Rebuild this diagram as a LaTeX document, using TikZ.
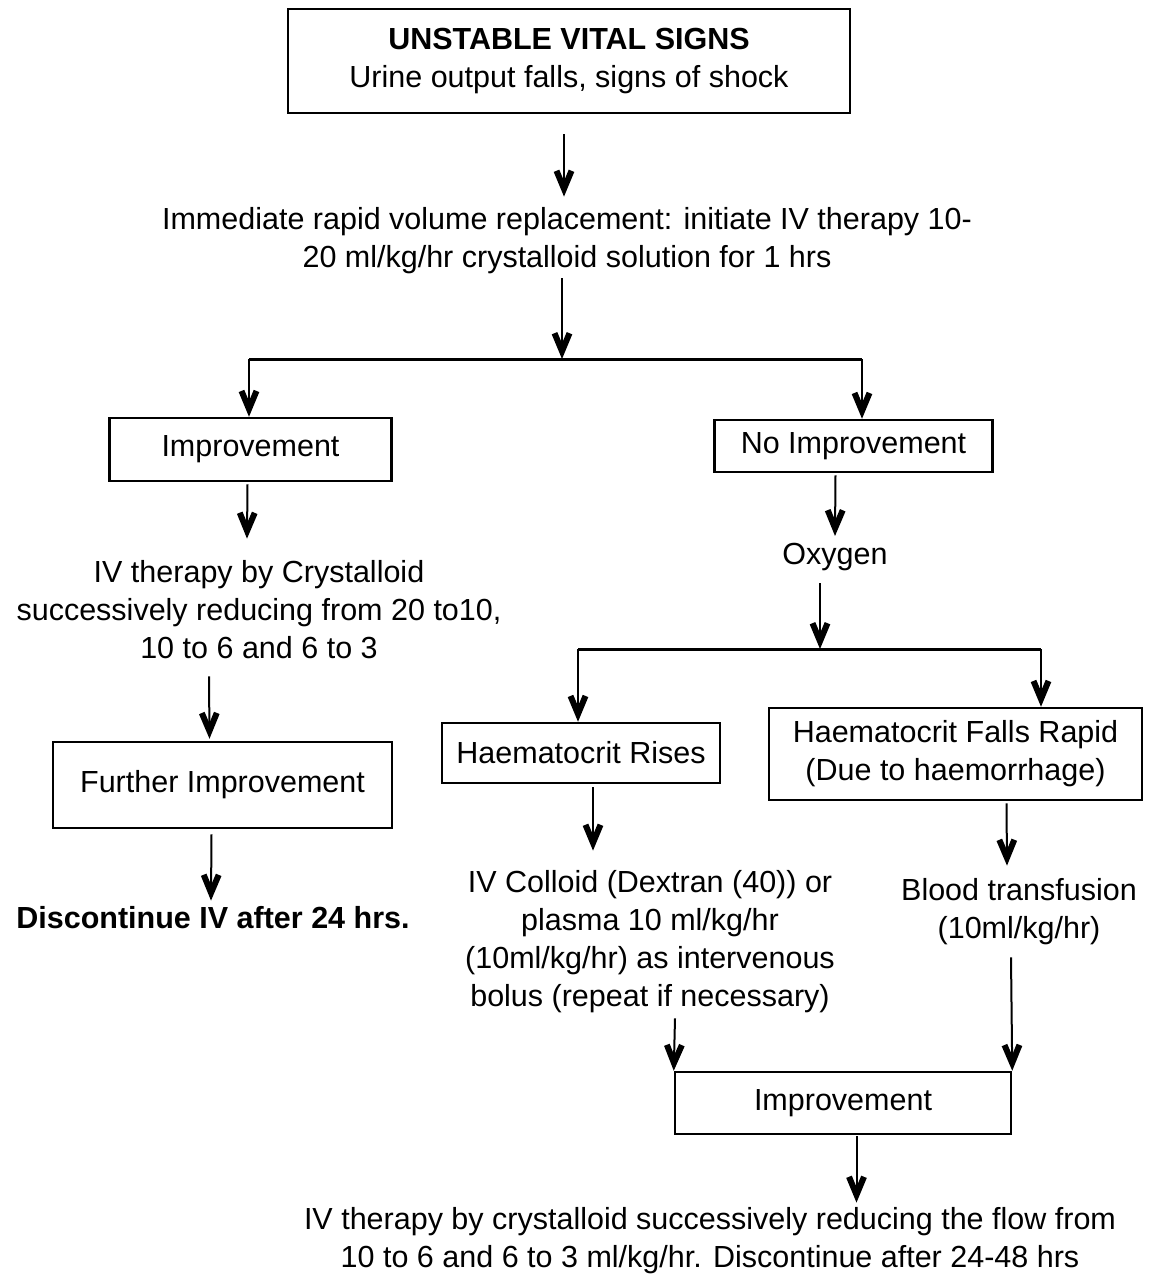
\documentclass[tikz,border=0pt]{standalone}
\usepackage{fontspec}
\setmainfont{Liberation Sans}
\usetikzlibrary{arrows.meta,calc}

\begin{document}
\begin{tikzpicture}[x=1pt, y=-1pt,
		font=\fontsize{30.5}{38}\selectfont,
		box/.style={shape=rectangle, draw, line width=2.5pt, align=center, inner sep=0pt},
		txt/.style={align=center, inner sep=0pt},
		arr/.style={line width=2pt, -{Straight Barb[length=18pt,width=15pt,line width=6pt]}},
		bar/.style={line width=3pt}]
			\useasboundingbox (0,0) rectangle (1149,1275);

			\node (z1)[box, minimum width=562, minimum height=104] 
			at (569,61){
				\textbf{UNSTABLE VITAL SIGNS}\\
				Urine output falls, signs of shock
			};

			\node (z2)[txt] 
			at (567,241){
				Immediate rapid volume replacement: initiate IV therapy 10-\\
				20 ml/kg/hr crystalloid solution for 1 hrs
			};

			\node (z3)[box, minimum width=282, minimum height=63] 
			at (250.5,449.5){Improvement};

			\node (z4)[box, minimum width=278, minimum height=52] 
			at (853.5,446){No Improvement};

			\node (z5)[txt] 
			at (259,610){
				IV therapy by Crystalloid\\
				successively reducing from 20 to10,\\
				10 to 6 and 6 to 3
			};

			\node (z6)[box, minimum width=339, minimum height=86] 
			at (222.5,785){Further Improvement};

			\node (z7)[txt] 
			at (213,918){\textbf{Discontinue IV after 24 hrs.}};

			\node (z8)[txt] 
			at (835,557){Oxygen};

			\node (z9)[box, minimum width=278, minimum height=60] 
			at (581,753){Haematocrit Rises};

			\node (z10)[box, minimum width=373, minimum height=92] 
			at (955.5,754){
				Haematocrit Falls Rapid\\
				(Due to haemorrhage)
			};

			\node (z11)[txt] 
			at (650,942){
				IV Colloid (Dextran (40)) or\\
				plasma 10 ml/kg/hr\\
				(10ml/kg/hr) as intervenous\\
				bolus (repeat if necessary)
			};

			\node (z12)[txt] 
			at (1019,912){
				Blood transfusion\\
				(10ml/kg/hr)
			};

			\node (z13)[box, minimum width=336, minimum height=62] 
			at (843,1103){Improvement};

			\node (z14)[txt] 
			at (710,1241){
				IV therapy by crystalloid successively reducing the flow from\\
				10 to 6 and 6 to 3 ml/kg/hr. Discontinue after 24-48 hrs
			};

			% branch points
			\coordinate (j1) at (562,359);
			\coordinate (j1l) at (249,359);
			\coordinate (j1r) at (862,359);
			\coordinate (j2) at (820,649);
			\coordinate (j2l) at (578,649);
			\coordinate (j2r) at (1041,649);

			\draw[arr] ($(z1.south)+(-5,20)$) -- ($(z2.north)+(-3,-11)$);
			\draw[arr] ($(z2.south)+(-5,4)$) -- (j1);
			\draw[bar] (j1l) -- (j1r);
			\draw[arr] (j1l) -- (j1l |- z3.north);
			\draw[arr] (j1r) -- (j1r |- z4.north);
			\draw[arr] ($(z3.south)+(-3,2)$) -- ($(z5.north)+(-12,-22)$);
			\draw[arr] ($(z5.south)+(-50,17)$) -- ($(z6.north)+(-13,-2)$);
			\draw[arr] ($(z6.south)+(-11,5)$) -- ($(z7.north)+(-2,-6)$);
			\draw[arr] ($(z4.south)+(-18,2)$) -- ($(z8.north)+(0,-7)$);
			\draw[arr] ($(z8.south)+(-15,12)$) -- (j2);
			\draw[bar] (j2l) -- (j2r);
			\draw[arr] (j2l) -- (j2l |- z9.north);
			\draw[arr] (j2r) -- (j2r |- z10.north);
			\draw[arr] ($(z9.south)+(12,3)$) -- ($(z11.north)+(-57,-20)$);
			\draw[arr] ($(z10.south)+(51,2)$) -- ($(z12.north)+(-12,-13)$);
			\draw[arr] ($(z11.south)+(25,5)$) -- (z13.north west);
			\draw[arr] ($(z12.south)+(-8,12)$) -- (z13.north east);
			\draw[arr] ($(z13.south)+(13.5,1)$) -- ($(z14.north)+(146.5,-5)$);
		\end{tikzpicture}
\end{document}
